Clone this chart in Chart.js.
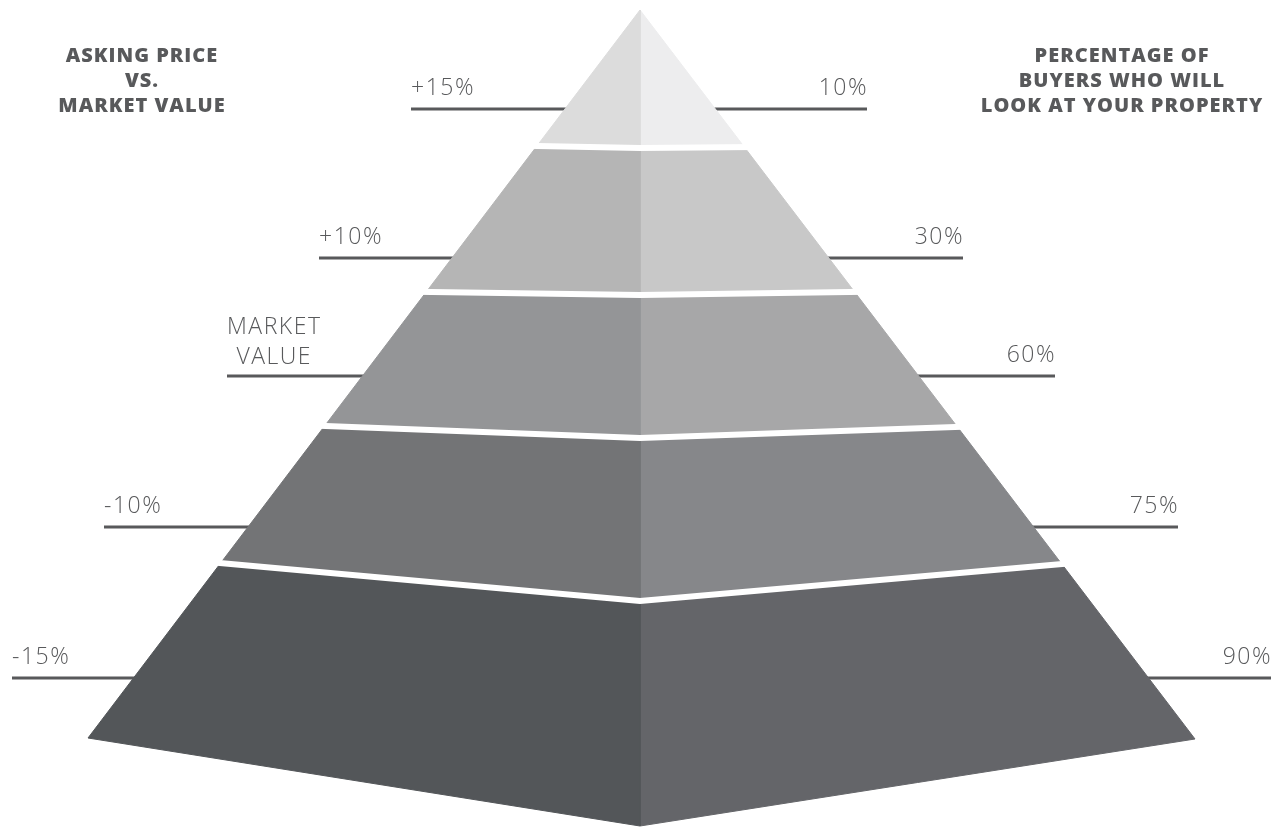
<!DOCTYPE html>
<html><head><meta charset="utf-8">
<script src="https://cdn.jsdelivr.net/npm/chart.js@4.4.1/dist/chart.umd.min.js"></script>
<style>html,body{margin:0;padding:0;background:#fff;overflow:hidden}#wrap{width:1283px;height:828px}</style>
</head><body><div id="wrap"><canvas id="c" width="1283" height="828"></canvas></div>
<script>
// ---------- data ----------
const askingPrice = ['+15%', '+10%', 'MARKET\nVALUE', '-10%', '-15%'];
const buyersPct = [10, 30, 60, 75, 90];
const leftTitle = ['ASKING PRICE', 'VS.', 'MARKET VALUE'];
const rightTitle = ['PERCENTAGE OF', 'BUYERS WHO WILL', 'LOOK AT YOUR PROPERTY'];

// ---------- layout / style (canvas units) ----------
const apex = {x: 640, y: 10};
const baseLeft = {x: 88, y: 738};
const baseRight = {x: 1195, y: 739};
const edgeBreakLeftY = [146, 292, 426, 563, 738];
const edgeBreakRightY = [147, 292, 427, 564, 739];
const centerBreakY = [148, 295, 438, 601, 826];
const leaderY = [109, 258, 376, 527, 678];
const leaderLeftX = [411, 319, 227, 104, 12];
const leaderRightX = [867, 963, 1055, 1178, 1271];
const leftFaceColors = ['#dcdcdc', '#b5b5b5', '#949597', '#737476', '#535659'];
const rightFaceColors = ['#ededee', '#c8c8c8', '#a7a7a8', '#86878a', '#646569'];
const inkColor = '#58595b';
const gapWidth = 6;

function xLeft(y) { return apex.x + (baseLeft.x - apex.x) * (y - apex.y) / (baseLeft.y - apex.y); }
function xRight(y) { return apex.x + (baseRight.x - apex.x) * (y - apex.y) / (baseRight.y - apex.y); }

const datasets = [];
// separators (top)
for (let i = 0; i < centerBreakY.length - 1; i++) {
  const yl = edgeBreakLeftY[i], yr = edgeBreakRightY[i], yc = centerBreakY[i];
  const xl = xLeft(yl), xr = xRight(yr), ext = 12;
  const sl = (yc - yl) / (apex.x - xl), sr = (yc - yr) / (xr - apex.x);
  datasets.push({
    data: [{x: xl - ext, y: yl - ext * sl}, {x: apex.x, y: yc}, {x: xr + ext, y: yr - ext * sr}],
    showLine: true, borderColor: '#ffffff', borderWidth: gapWidth, pointRadius: 0, fill: false, order: 1,
    borderJoinStyle: 'miter'
  });
}
// faces
for (let i = 0; i < centerBreakY.length; i++) {
  const ylT = i === 0 ? apex.y : edgeBreakLeftY[i - 1];
  const yrT = i === 0 ? apex.y : edgeBreakRightY[i - 1];
  const ycT = i === 0 ? apex.y : centerBreakY[i - 1];
  const ylB = edgeBreakLeftY[i], yrB = edgeBreakRightY[i], ycB = centerBreakY[i];
  datasets.push({
    data: [{x: xLeft(ylT), y: ylT}, {x: apex.x, y: ycT}, {x: apex.x, y: ycB}, {x: xLeft(ylB), y: ylB}, {x: xLeft(ylT), y: ylT}],
    showLine: true, fill: 'shape', backgroundColor: leftFaceColors[i], borderColor: leftFaceColors[i],
    borderWidth: 1, pointRadius: 0, order: 2
  });
  datasets.push({
    data: [{x: apex.x, y: ycT}, {x: xRight(yrT), y: yrT}, {x: xRight(yrB), y: yrB}, {x: apex.x, y: ycB}, {x: apex.x, y: ycT}],
    showLine: true, fill: 'shape', backgroundColor: rightFaceColors[i], borderColor: rightFaceColors[i],
    borderWidth: 1, pointRadius: 0, order: 2
  });
}
// leader lines (bottom)
for (let i = 0; i < leaderY.length; i++) {
  datasets.push({
    data: [{x: leaderLeftX[i], y: leaderY[i]}, {x: apex.x, y: leaderY[i]}],
    showLine: true, borderColor: inkColor, borderWidth: 3, pointRadius: 0, fill: false, order: 3
  });
  datasets.push({
    data: [{x: apex.x, y: leaderY[i]}, {x: leaderRightX[i], y: leaderY[i]}],
    showLine: true, borderColor: inkColor, borderWidth: 3, pointRadius: 0, fill: false, order: 3
  });
}

const textPlugin = {
  id: 'pyramidText',
  afterDraw(chart) {
    const ctx = chart.ctx, xs = chart.scales.x, ys = chart.scales.y;
    ctx.save();
    ctx.fillStyle = inkColor;
    ctx.textBaseline = 'alphabetic';
    // headers
    ctx.font = '800 20px "Open Sans"';
    if ('letterSpacing' in ctx) ctx.letterSpacing = '1px';
    ctx.textAlign = 'center';
    leftTitle.forEach((t, k) => ctx.fillText(t, xs.getPixelForValue(142), ys.getPixelForValue(62 + k * 25)));
    rightTitle.forEach((t, k) => ctx.fillText(t, xs.getPixelForValue(1122), ys.getPixelForValue(62 + k * 25)));
    // tier labels
    ctx.font = '300 23px "Open Sans"';
    if ('letterSpacing' in ctx) ctx.letterSpacing = '1.5px';
    askingPrice.forEach((lbl, i) => {
      const lines = lbl.split('\n');
      const base = leaderY[i] - (lines.length > 1 ? 12 : 14);
      const maxW = Math.max(...lines.map(l => ctx.measureText(l).width));
      lines.forEach((l, k) => {
        const y = base - (lines.length - 1 - k) * 30;
        if (lines.length > 1) {
          ctx.textAlign = 'center';
          ctx.fillText(l, xs.getPixelForValue(leaderLeftX[i]) + maxW / 2, ys.getPixelForValue(y));
        } else {
          ctx.textAlign = 'left';
          ctx.fillText(l, xs.getPixelForValue(leaderLeftX[i]), ys.getPixelForValue(y));
        }
      });
    });
    ctx.textAlign = 'right';
    buyersPct.forEach((v, i) => {
      ctx.fillText(v + '%', xs.getPixelForValue(leaderRightX[i]) + 1, ys.getPixelForValue(leaderY[i] - 14));
    });
    ctx.restore();
  }
};

new Chart(document.getElementById('c'), {
  type: 'scatter',
  data: {datasets},
  options: {
    responsive: false, animation: false, devicePixelRatio: 1,
    layout: {padding: 0},
    elements: {line: {tension: 0}},
    plugins: {legend: {display: false}, tooltip: {enabled: false}, title: {display: false}},
    scales: {
      x: {type: 'linear', min: 0, max: 1283, display: false},
      y: {type: 'linear', min: 0, max: 828, reverse: true, display: false}
    }
  },
  plugins: [textPlugin]
});
</script>
</body></html>
